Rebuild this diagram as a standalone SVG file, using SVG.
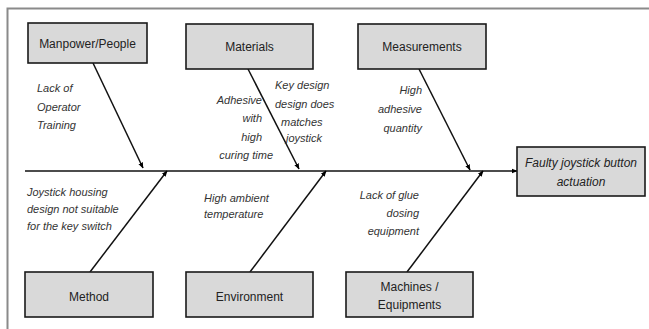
<svg xmlns="http://www.w3.org/2000/svg" width="649" height="329" viewBox="0 0 649 329">
<defs>
<marker id="ah" viewBox="0 0 10 10" refX="9" refY="5" markerWidth="6" markerHeight="6" orient="auto" markerUnits="userSpaceOnUse">
<path d="M0,1 L10,5 L0,9 z" fill="#000"/>
</marker>
<style>
.box{fill:#d9d9d9;stroke:#1a1a1a;stroke-width:1.6}
.lbl{font-family:"Liberation Sans",Arial,sans-serif;font-size:12px;fill:#222;text-anchor:middle}
.eff{font-family:"Liberation Sans",Arial,sans-serif;font-size:12px;font-style:italic;fill:#222;text-anchor:middle}
.it{font-family:"Liberation Sans",Arial,sans-serif;font-size:11px;font-style:italic;fill:#333}
.r{text-anchor:end}
.conn line{stroke:#111;stroke-width:1.5;marker-end:url(#ah)}
</style>
</defs>
<rect width="649" height="329" fill="#fff"/>
<path d="M7.5,329 V8.5 H649" fill="none" stroke="#8a8a8a" stroke-width="2"/>

<g id="connectors" class="conn">
<line x1="25" y1="171" x2="517" y2="171"/>
<line x1="93" y1="63" x2="143" y2="168"/>
<line x1="248" y1="69" x2="299" y2="169"/>
<line x1="419" y1="69" x2="470" y2="170"/>
<line x1="90" y1="272" x2="167" y2="171"/>
<line x1="250" y1="272" x2="326" y2="171"/>
<line x1="407" y1="272" x2="483" y2="171"/>
</g>

<g id="manpower">
<rect class="box" x="28" y="23" width="119" height="40"/>
<text class="lbl" x="87.5" y="48">Manpower/People</text>
</g>
<g id="materials">
<rect class="box" x="186" y="24" width="127" height="45"/>
<text class="lbl" x="249.5" y="51">Materials</text>
</g>
<g id="measurements">
<rect class="box" x="358" y="24" width="128" height="45"/>
<text class="lbl" x="422" y="51">Measurements</text>
</g>
<g id="effect">
<rect class="box" x="517" y="147" width="128" height="49"/>
<text class="eff" x="581" y="167">Faulty joystick button</text>
<text class="eff" x="581" y="186">actuation</text>
</g>
<g id="method">
<rect class="box" x="25" y="272" width="128" height="45"/>
<text class="lbl" x="89" y="301">Method</text>
</g>
<g id="environment">
<rect class="box" x="186" y="272" width="127" height="45"/>
<text class="lbl" x="249.5" y="301">Environment</text>
</g>
<g id="machines">
<rect class="box" x="346" y="272" width="127" height="45"/>
<text class="lbl" x="409.5" y="291">Machines /</text>
<text class="lbl" x="409.5" y="309">Equipments</text>
</g>

<g id="causes">
<text class="it" x="37" y="92">Lack of</text>
<text class="it" x="37" y="111">Operator</text>
<text class="it" x="37" y="129">Training</text>

<text class="it r" x="262" y="104">Adhesive</text>
<text class="it r" x="262" y="122">with</text>
<text class="it r" x="262" y="141">high</text>
<text class="it r" x="273" y="159">curing time</text>

<text class="it" x="275" y="89">Key design</text>
<text class="it" x="275" y="108">design does</text>
<text class="it" x="281" y="126">matches</text>
<text class="it" x="286" y="142">joystick</text>

<text class="it r" x="422" y="94">High</text>
<text class="it r" x="422" y="113">adhesive</text>
<text class="it r" x="422" y="132">quantity</text>

<text class="it" x="27" y="196">Joystick housing</text>
<text class="it" x="27" y="213">design not suitable</text>
<text class="it" x="27" y="230">for the key switch</text>

<text class="it" x="204" y="202">High ambient</text>
<text class="it" x="204" y="218">temperature</text>

<text class="it r" x="419" y="199">Lack of glue</text>
<text class="it r" x="419" y="217">dosing</text>
<text class="it r" x="419" y="235">equipment</text>
</g>
</svg>
